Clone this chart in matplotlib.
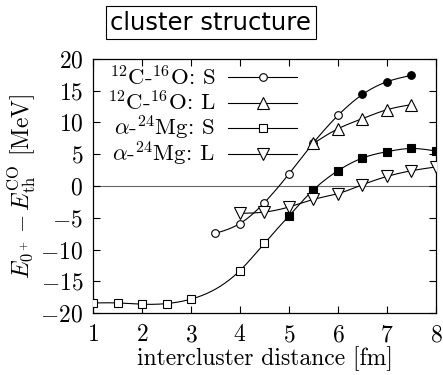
import numpy as np
import matplotlib
matplotlib.use('Agg')
import matplotlib.pyplot as plt

plt.rcParams['font.family'] = 'serif'
plt.rcParams['font.serif'] = ['cmr10']
plt.rcParams['mathtext.fontset'] = 'cm'
plt.rcParams['axes.formatter.use_mathtext'] = True
plt.rcParams['axes.unicode_minus'] = True

# 12C-16O, S (circles)
co_s_x = [3.5, 4.0, 4.5, 5.0, 5.5, 6.0, 6.5, 7.0, 7.5]
co_s_y = [-7.45, -5.9, -2.6, 1.9, 6.8, 11.1, 14.4, 16.4, 17.4]
co_s_filled = [0, 0, 0, 0, 0, 0, 1, 1, 1]

# 12C-16O, L (up triangles)
co_l_x = [5.5, 6.0, 6.5, 7.0, 7.5]
co_l_y = [6.7, 9.0, 10.6, 12.0, 12.8]

# alpha-24Mg, S (squares)
am_s_x = [1.0, 1.5, 2.0, 2.5, 3.0, 4.0, 4.5, 5.0, 5.5, 6.0, 6.5, 7.0, 7.5, 8.0]
am_s_y = [-18.4, -18.4, -18.6, -18.5, -17.8, -13.3, -9.0, -4.7, -0.6, 2.4, 4.4, 5.4, 5.9, 5.5]
am_s_filled = [0, 0, 0, 0, 0, 0, 0, 1, 1, 1, 1, 1, 1, 1]

# alpha-24Mg, L (down triangles)
am_l_x = [4.0, 4.5, 5.0, 5.5, 6.0, 6.5, 7.0, 7.5, 8.0]
am_l_y = [-4.3, -4.1, -3.3, -2.1, -1.2, 0.2, 1.5, 2.4, 3.0]

labels = [r'$^{12}$C-$^{16}$O: S', r'$^{12}$C-$^{16}$O: L',
          r'$\alpha$-$^{24}$Mg: S', r'$\alpha$-$^{24}$Mg: L']
markers = ['o', '^', 's', 'v']
msizes = [5.5, 8.5, 5.5, 8.5]


def csplines(x, y, n=300):
    # natural cubic spline through the points, like gnuplot "smooth csplines"
    x = np.asarray(x, float)
    y = np.asarray(y, float)
    m = len(x)
    h = np.diff(x)
    A = np.zeros((m, m))
    b = np.zeros(m)
    A[0, 0] = 1
    A[-1, -1] = 1
    for i in range(1, m - 1):
        A[i, i - 1] = h[i - 1]
        A[i, i] = 2 * (h[i - 1] + h[i])
        A[i, i + 1] = h[i]
        b[i] = 6 * ((y[i + 1] - y[i]) / h[i] - (y[i] - y[i - 1]) / h[i - 1])
    M = np.linalg.solve(A, b)
    xs = np.linspace(x[0], x[-1], n)
    idx = np.clip(np.searchsorted(x, xs) - 1, 0, m - 2)
    x0, x1 = x[idx], x[idx + 1]
    hh = x1 - x0
    t0 = x1 - xs
    t1 = xs - x0
    ys = (M[idx] * t0**3 + M[idx + 1] * t1**3) / (6 * hh) \
        + (y[idx] / hh - M[idx] * hh / 6) * t0 \
        + (y[idx + 1] / hh - M[idx + 1] * hh / 6) * t1
    return xs, ys


fs = 17
lw = 0.8

fig = plt.figure(figsize=(4.43, 3.75), dpi=100)
ax = fig.add_axes([0.21, 0.165, 0.774, 0.678])

ax.axhline(0, color='0.4', lw=0.8, zorder=1)

for xx, yy in [(co_s_x, co_s_y), (co_l_x, co_l_y), (am_s_x, am_s_y), (am_l_x, am_l_y)]:
    sx, sy = csplines(xx, yy)
    ax.plot(sx, sy, color='k', lw=lw, zorder=2)


def draw_points(xx, yy, filled, marker, ms):
    xx = np.asarray(xx)
    yy = np.asarray(yy)
    f = np.asarray(filled, bool)
    ax.plot(xx[~f], yy[~f], ls='none', marker=marker, ms=ms, mfc='white', mec='k', mew=lw, zorder=3)
    ax.plot(xx[f], yy[f], ls='none', marker=marker, ms=ms, mfc='k', mec='k', mew=lw, zorder=3)


draw_points(co_s_x, co_s_y, co_s_filled, markers[0], msizes[0])
draw_points(co_l_x, co_l_y, [0] * len(co_l_x), markers[1], msizes[1])
draw_points(am_s_x, am_s_y, am_s_filled, markers[2], msizes[2])
draw_points(am_l_x, am_l_y, [0] * len(am_l_x), markers[3], msizes[3])

# gnuplot-style key: right-aligned text, then line sample with marker
key_rows = [0.929, 0.827, 0.728, 0.626]
for lab, mk, ms, yk in zip(labels, markers, msizes, key_rows):
    ax.text(0.356, yk, lab, transform=ax.transAxes, ha='right', va='center', fontsize=16.5)
    ax.plot([0.394, 0.595], [yk, yk], transform=ax.transAxes, color='k', lw=lw)
    ax.plot([0.496], [yk], transform=ax.transAxes, ls='none', marker=mk, ms=ms,
            mfc='white', mec='k', mew=lw)

ax.set_xlim(1, 8)
ax.set_ylim(-20, 20)
ax.set_xticks(range(1, 9))
ax.set_yticks(range(-20, 21, 5))
ax.tick_params(direction='in', top=True, right=True, length=5, width=0.8, labelsize=fs)
ax.tick_params(axis='x', pad=8)
ax.tick_params(axis='y', pad=7)
for s in ax.spines.values():
    s.set_linewidth(0.9)

ax.set_xlabel('intercluster distance [fm]', fontsize=fs, labelpad=0)
ax.set_ylabel(r'$E_{0^+} - E_{\rm th}^{\rm CO}$ [MeV]', fontsize=fs, labelpad=2)

fig.text(0.476, 0.94, 'cluster structure', family='DejaVu Sans', fontsize=17.5,
         ha='center', va='center',
         bbox=dict(boxstyle='square,pad=0.2', fc='white', ec='k', lw=0.8))

fig.savefig('out.png', dpi=100)
